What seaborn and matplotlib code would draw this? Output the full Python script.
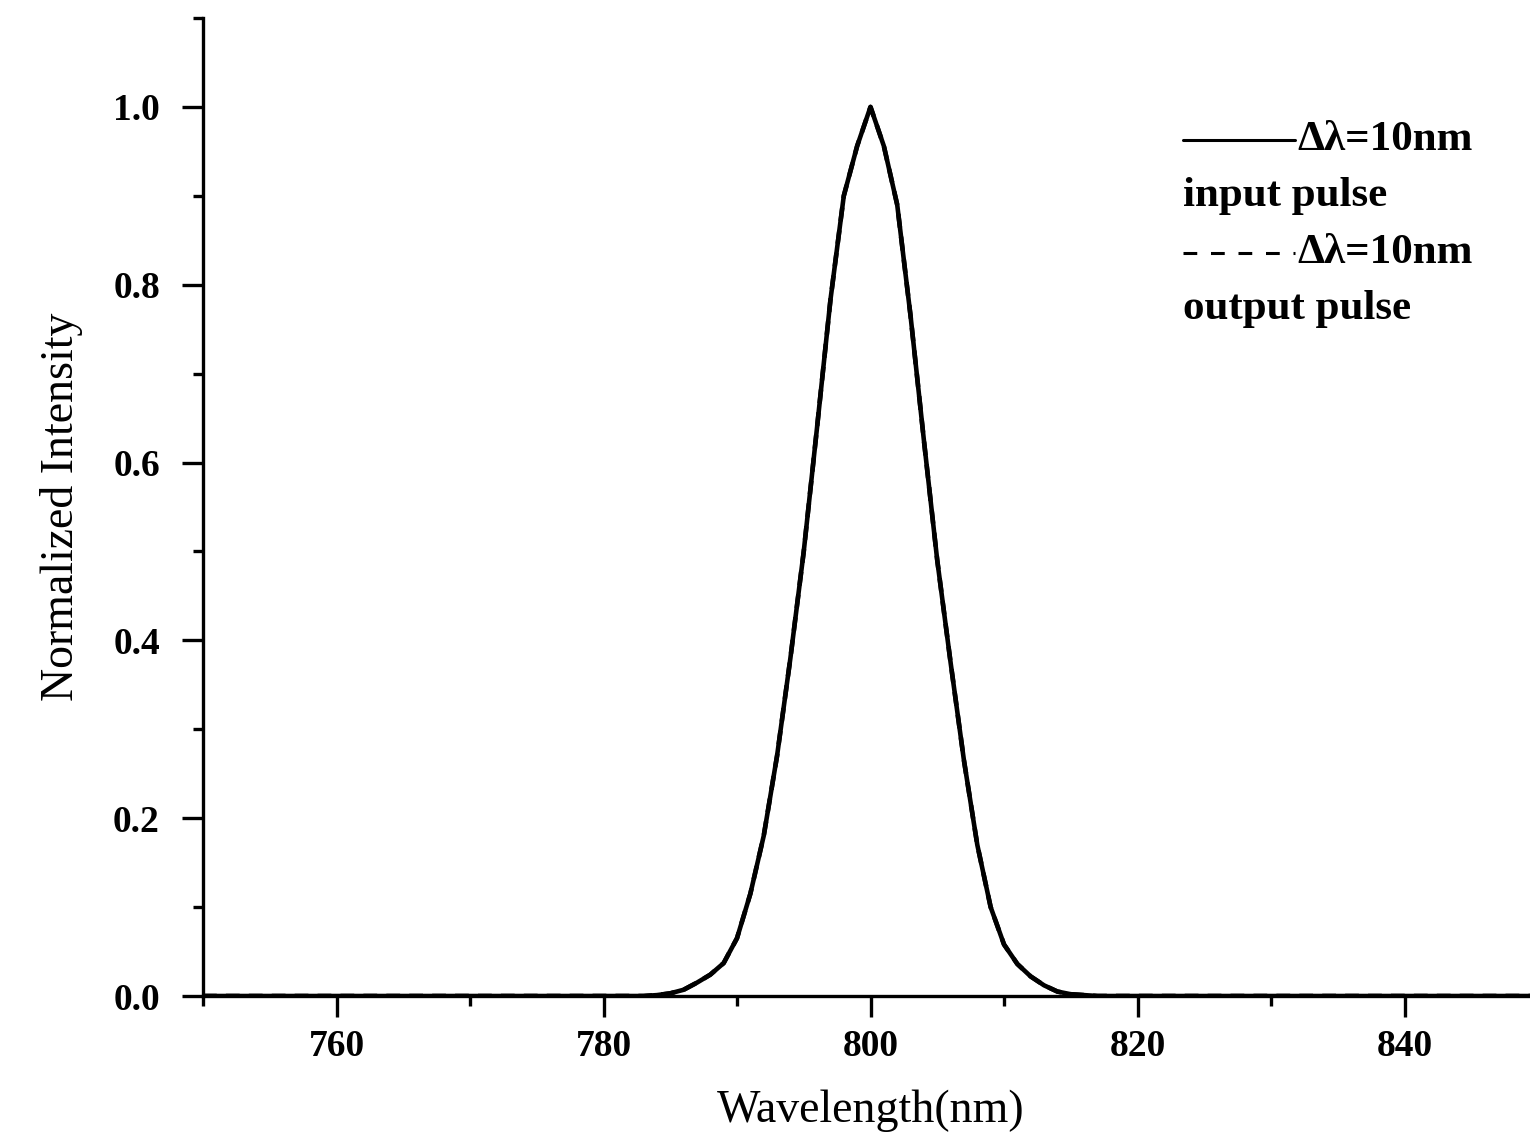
import numpy as np
import pandas as pd
import seaborn as sns
import matplotlib
matplotlib.use("Agg")
import matplotlib.pyplot as plt
from matplotlib.lines import Line2D

# ---- data ----
wavelength = list(range(750, 851))
input_intensity = (
    [0.0] * 34 +                                   # 750 .. 783
    [0.001, 0.003, 0.007, 0.015, 0.024, 0.037,     # 784 .. 789
     0.065, 0.115, 0.180, 0.270, 0.380, 0.500,     # 790 .. 795
     0.640, 0.783, 0.900, 0.956, 1.000,            # 796 .. 800
     0.956, 0.890, 0.765, 0.625, 0.490,            # 801 .. 805
     0.375, 0.265, 0.170, 0.100, 0.058,            # 806 .. 810
     0.036, 0.022, 0.012, 0.005, 0.002, 0.001] +   # 811 .. 816
    [0.0] * 34                                     # 817 .. 850
)
output_intensity = list(input_intensity)
legend_labels = ["Δλ=10nm", "input pulse", "Δλ=10nm", "output pulse"]
x_ticks = [760, 780, 800, 820, 840]
y_ticks = [0.0, 0.2, 0.4, 0.6, 0.8, 1.0]

df = pd.DataFrame({
    "Wavelength": wavelength * 2,
    "Intensity": input_intensity + output_intensity,
    "pulse": ["input"] * len(wavelength) + ["output"] * len(wavelength),
})

sns.set_theme(style="ticks")
plt.rcParams["font.family"] = ["Liberation Serif", "DejaVu Serif"]
plt.rcParams["text.color"] = "black"
plt.rcParams["axes.labelcolor"] = "black"
plt.rcParams["xtick.color"] = "black"
plt.rcParams["ytick.color"] = "black"

fig = plt.figure(figsize=(15.3, 11.47), dpi=100)
ax = fig.add_axes([203 / 1530, 1 - 996 / 1147, (1538 - 203) / 1530, (996 - 18) / 1147])

sns.lineplot(data=df[df.pulse == "input"], x="Wavelength", y="Intensity",
             color="black", lw=3.3, ax=ax, estimator=None)
sns.lineplot(data=df[df.pulse == "output"], x="Wavelength", y="Intensity",
             color="black", lw=3.3, ls=(0, (3, 2)), ax=ax, estimator=None)

ax.set_xlim(750, 850)
ax.set_ylim(0, 1.1)
ax.set_xticks(x_ticks)
ax.set_xticks(np.arange(750, 851, 10), minor=True)
ax.set_yticks(y_ticks)
ax.set_yticks(np.arange(0, 1.11, 0.1), minor=True)
ax.set_xticklabels([str(v) for v in x_ticks])
ax.set_yticklabels([f"{v:.1f}" for v in y_ticks])

for side in ["top", "right"]:
    ax.spines[side].set_visible(False)
for side in ["left", "bottom"]:
    ax.spines[side].set_linewidth(2.4)
    ax.spines[side].set_color("black")

ax.tick_params(axis="both", which="major", direction="out", length=15, width=2.4,
               color="black", labelcolor="black", labelsize=27)
ax.tick_params(axis="x", which="major", pad=9)
ax.tick_params(axis="y", which="major", pad=16)
ax.tick_params(axis="both", which="minor", direction="out", length=7, width=2.4, color="black")
for lab in ax.get_xticklabels() + ax.get_yticklabels():
    lab.set_fontweight("bold")

ax.set_xlabel("Wavelength(nm)", fontsize=33, labelpad=18, color="black")
ax.set_ylabel("Normalized Intensity", fontsize=33, labelpad=22, color="black")
ax.set_facecolor("white")
fig.patch.set_facecolor("white")

# ---- legend drawn by hand ----
tr = ax.transAxes
def ax_x(px):
    return (px - 203) / (1538 - 203)
def ax_y(py):
    return (996 - py) / (996 - 18)

ax.add_line(Line2D([ax_x(1183), ax_x(1295)], [ax_y(140), ax_y(140)], transform=tr,
                   color="black", lw=2.2))
ax.text(ax_x(1297), ax_y(140), legend_labels[0], transform=tr, fontsize=31,
        fontweight="bold", va="center", ha="left", color="black")
ax.text(ax_x(1183), ax_y(196), legend_labels[1], transform=tr, fontsize=31,
        fontweight="bold", va="center", ha="left", color="black")
ax.add_line(Line2D([ax_x(1183), ax_x(1295)], [ax_y(253), ax_y(253)], transform=tr,
                   color="black", lw=2.2, ls=(0, (4.5, 4.5))))
ax.text(ax_x(1297), ax_y(253), legend_labels[2], transform=tr, fontsize=31,
        fontweight="bold", va="center", ha="left", color="black")
ax.text(ax_x(1183), ax_y(309), legend_labels[3], transform=tr, fontsize=31,
        fontweight="bold", va="center", ha="left", color="black")

fig.savefig("out.png", dpi=100, facecolor="white")
